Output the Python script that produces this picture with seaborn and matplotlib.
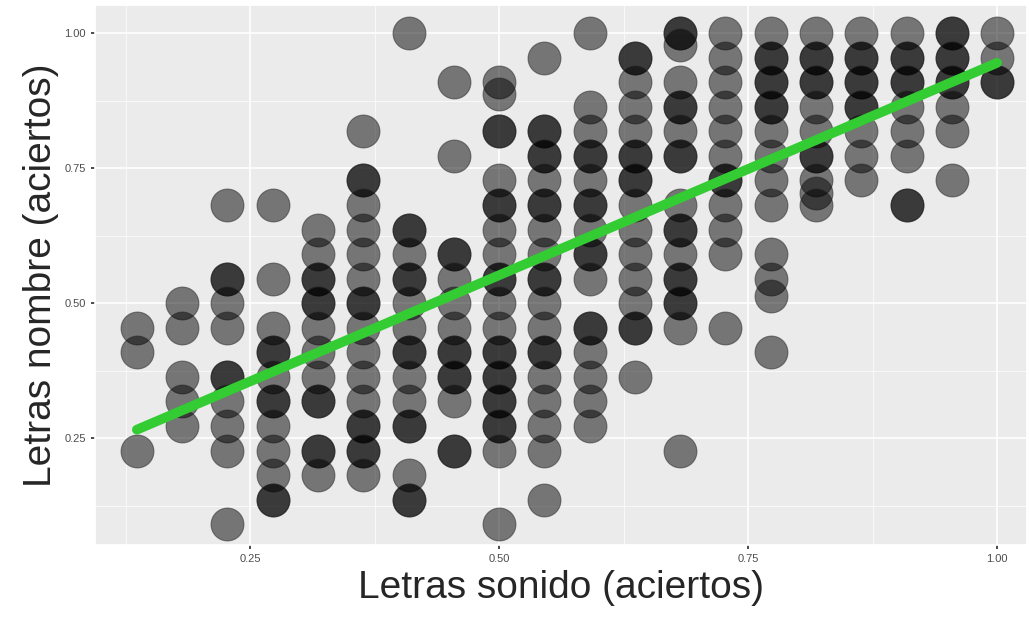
import matplotlib
matplotlib.use("Agg")
import matplotlib.pyplot as plt
import numpy as np
import pandas as pd
import seaborn as sns

# Score grid: both tests scored out of 22
N_ITEMS = 22
x_numerators = list(range(3, 23))
# y numerators per x column (repeated values = stacked duplicates)
y_numerators = [
    [10, 9, 5],
    [11, 10, 8, 7, 6],
    [12, 12, 11, 10, 8, 8, 7, 6, 5, 2, 15],
    [15, 12, 10, 9, 9, 8, 7, 7, 6, 5, 4, 3, 3],
    [14, 13, 12, 12, 11, 11, 10, 9, 8, 7, 7, 5, 5, 4],
    [18, 16, 16, 15, 14, 13, 12, 11, 11, 10, 9, 8, 7, 6, 6, 5, 5, 4],
    [22, 14, 14, 13, 12, 12, 11, 10, 9, 9, 8, 7, 6, 6, 4, 3, 3],
    [20, 17, 13, 13, 12, 11, 10, 9, 9, 8, 8, 7, 5, 5],
    [20, 19.5, 18, 18, 16, 15, 15, 14, 13, 12, 12, 11, 10, 9, 9, 8, 8, 7, 7, 6, 6, 5, 2],
    [21, 18, 18, 17, 17, 16, 15, 15, 14, 13, 12, 12, 11, 10, 9, 9, 8, 7, 6, 5, 3],
    [22, 19, 18, 17, 17, 16, 15, 15, 14, 13, 13, 12, 10, 10, 9, 8, 7, 6],
    [21, 21, 20, 19, 18, 17, 17, 16, 16, 15, 14, 13, 12, 11, 10, 10, 8],
    [22, 22, 21.5, 20, 19, 19, 18, 17, 17, 15, 14, 14, 13, 12, 12, 11, 11, 10, 5],
    [22, 21, 20, 19, 18, 17, 16, 16, 15, 14, 13, 10],
    [22, 21, 21, 20, 20, 19, 19, 18, 17, 16, 15, 13, 12, 11.3, 9],
    [22, 21, 21, 20, 20, 19, 18, 17, 17, 16, 15.5, 15],
    [22, 21, 21, 20, 20, 19, 19, 18, 17, 16],
    [22, 21, 21, 20, 20, 19, 18, 17, 15, 15],
    [22, 22, 21, 21, 20, 20, 19, 18, 16],
    [22, 21, 20, 20],
]

rows = [(xn / N_ITEMS, yn / N_ITEMS)
        for xn, ys in zip(x_numerators, y_numerators) for yn in ys]
df = pd.DataFrame(rows, columns=["sonido", "nombre"])

sns.set_theme(style="darkgrid", rc={
    "axes.facecolor": "#EBEBEB",
    "grid.color": "white",
    "axes.edgecolor": "white",
})
plt.rcParams["font.family"] = ["Liberation Sans", "DejaVu Sans"]

fig, ax = plt.subplots(figsize=(10.29, 6.21), dpi=100)
sns.scatterplot(data=df, x="sonido", y="nombre", ax=ax, s=560,
                color="black", alpha=0.5, edgecolor="#222222", linewidth=0.8)
sns.regplot(data=df, x="sonido", y="nombre", ax=ax, scatter=False, ci=None,
            truncate=True, line_kws={"color": "#33CC33", "linewidth": 7})

ax.set_xlim(0.094, 1.03)
ax.set_ylim(0.052, 1.052)
ticks = [0.25, 0.50, 0.75, 1.00]
ax.set_xticks(ticks)
ax.set_yticks(ticks)
ax.set_xticklabels([f"{t:.2f}" for t in ticks])
ax.set_yticklabels([f"{t:.2f}" for t in ticks])
ax.set_xticks([0.125, 0.375, 0.625, 0.875], minor=True)
ax.set_yticks([0.125, 0.375, 0.625, 0.875], minor=True)
ax.grid(which="major", color="white", linewidth=1.2)
ax.grid(which="minor", color="white", linewidth=0.5)
ax.tick_params(axis="both", labelsize=8, labelcolor="#4D4D4D", length=3,
               color="#333333", left=True, bottom=True)
ax.set_xlabel("Letras sonido (aciertos)", fontsize=28)
ax.set_ylabel("Letras nombre (aciertos)", fontsize=28)

fig.subplots_adjust(left=0.092, right=0.998, top=0.992, bottom=0.122)
fig.savefig("out.png")
